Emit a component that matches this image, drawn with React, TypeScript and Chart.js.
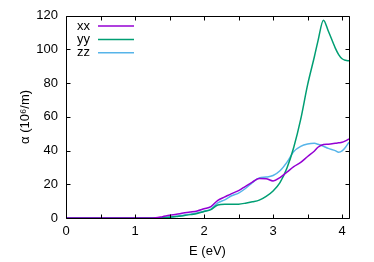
import React, { useEffect, useRef } from "react";
import { Chart, registerables } from "chart.js";

Chart.register(...registerables);

const energy = [0, 0.5, 1.0, 1.2, 1.3, 1.4, 1.5, 1.6, 1.7, 1.8, 1.9, 2.0, 2.1, 2.2, 2.3, 2.4, 2.5, 2.6, 2.7, 2.8, 2.9, 3.0, 3.1, 3.2, 3.3, 3.4, 3.5, 3.6, 3.65, 3.73, 3.8, 3.9, 3.95, 4.0, 4.05, 4.1];
const xx = [0, 0, 0, 0, 0.1, 0.8, 1.6, 2.2, 2.9, 3.5, 4.2, 5.5, 6.8, 10.5, 12.5, 14.5, 16.2, 18.8, 21.3, 23.5, 23.3, 22.0, 24.0, 27.2, 30.5, 33.0, 36.5, 39.8, 42.0, 43.6, 43.8, 44.3, 44.6, 44.9, 45.8, 46.9];
const yy = [0, 0, 0, 0, 0, 0.1, 0.4, 0.9, 1.4, 2.0, 2.7, 3.8, 5.0, 7.7, 8.1, 8.1, 8.2, 8.8, 9.6, 10.6, 12.8, 16.0, 21.0, 29.5, 42.0, 58.5, 79.0, 96.0, 105.0, 117.4, 111.0, 101.0, 97.0, 94.5, 93.6, 93.3];
const zz = [0, 0, 0, 0, 0, 0.2, 0.6, 1.1, 1.7, 2.3, 3.0, 4.0, 5.3, 9.0, 10.8, 13.2, 14.8, 17.5, 21.0, 23.8, 24.3, 25.2, 28.0, 33.0, 39.5, 42.5, 43.9, 44.3, 43.8, 42.6, 41.3, 40.0, 39.0, 39.8, 42.0, 45.0];

const seriesNames = ["xx", "yy", "zz"];
const seriesColors = ["#9400D3", "#009E73", "#56B4E9"];
const xTicks = [0, 0.5, 1, 1.5, 2, 2.5, 3, 3.5, 4];
const yTicks = [0, 20, 40, 60, 80, 100, 120];

const FONT = "'Liberation Sans', Arial, sans-serif";

const framePlugin = {
  id: "frame",
  afterDraw(chart: any) {
    const { ctx, chartArea } = chart;
    const { left, right, top, bottom } = chartArea;
    const xs = chart.scales.x;
    const ys = chart.scales.y;
    ctx.save();
    ctx.strokeStyle = "#000";
    ctx.lineWidth = 1;
    ctx.beginPath();
    const L = Math.round(left) + 0.5;
    const R = Math.round(right) + 0.5;
    const T = Math.round(top) + 0.5;
    const B = Math.round(bottom) + 0.5;
    ctx.rect(L, T, R - L, B - T);
    const tl = 4;
    xTicks.forEach((v) => {
      const px = Math.round(xs.getPixelForValue(v)) + 0.5;
      ctx.moveTo(px, B);
      ctx.lineTo(px, B - tl);
      ctx.moveTo(px, T);
      ctx.lineTo(px, T + tl);
    });
    yTicks.forEach((v) => {
      const py = Math.round(ys.getPixelForValue(v)) + 0.5;
      ctx.moveTo(L, py);
      ctx.lineTo(L + tl, py);
      ctx.moveTo(R, py);
      ctx.lineTo(R - tl, py);
    });
    ctx.stroke();

    // key (text then sample line, gnuplot style)
    ctx.font = `13px ${FONT}`;
    ctx.textAlign = "right";
    ctx.textBaseline = "middle";
    seriesNames.forEach((name, i) => {
      const y = 26 + i * 13.4;
      ctx.fillStyle = "#000";
      ctx.fillText(name, 90, y);
      ctx.strokeStyle = seriesColors[i];
      ctx.lineWidth = 1.5;
      ctx.beginPath();
      ctx.moveTo(98, y);
      ctx.lineTo(134, y);
      ctx.stroke();
    });
    ctx.restore();
  },
};

export default function App() {
  const ref = useRef<HTMLCanvasElement | null>(null);
  useEffect(() => {
    if (!ref.current) return;
    const mk = (vals: number[], i: number) => ({
      label: seriesNames[i],
      data: energy.map((e, k) => ({ x: e, y: vals[k] })),
      borderColor: seriesColors[i],
      backgroundColor: seriesColors[i],
      borderWidth: 1.5,
      pointRadius: 0,
      fill: false,
      cubicInterpolationMode: "monotone" as const,
    });
    const chart = new Chart(ref.current, {
      type: "line",
      data: { datasets: [mk(xx, 0), mk(yy, 1), mk(zz, 2)] },
      options: {
        responsive: false,
        animation: false,
        layout: { padding: { top: 15, right: 25, left: 0, bottom: 0 } },
        plugins: { legend: { display: false }, tooltip: { enabled: false } },
        scales: {
          x: {
            type: "linear",
            min: 0,
            max: 4.1,
            grid: { display: false, drawTicks: false },
            border: { display: false },
            ticks: {
              stepSize: 0.5,
              includeBounds: false,
              autoSkip: false,
              maxRotation: 0,
              padding: 6,
              color: "#000",
              font: { family: FONT, size: 13 },
              callback: (v: any) => (Number.isInteger(Number(v)) ? String(v) : ""),
            },
            title: {
              display: true,
              text: "E (eV)",
              color: "#000",
              font: { family: FONT, size: 13 },
              padding: { top: 0, bottom: 3 },
            },
            afterFit: (s: any) => {
              s.height = 44;
            },
          },
          y: {
            type: "linear",
            min: 0,
            max: 120,
            grid: { display: false, drawTicks: false },
            border: { display: false },
            ticks: {
              stepSize: 20,
              padding: 8,
              color: "#000",
              font: { family: FONT, size: 13 },
            },
            title: {
              display: true,
              text: "α (10⁶/m)",
              color: "#000",
              font: { family: FONT, size: 13 },
              padding: { top: 18, bottom: 0 },
            },
            afterFit: (s: any) => {
              s.width = 66;
            },
          },
        },
      },
      plugins: [framePlugin],
    });
    return () => chart.destroy();
  }, []);
  return (
    <div style={{ position: "fixed", left: 0, top: 0, width: 374, height: 262, background: "#fff" }}>
      <canvas ref={ref} width={374} height={262} style={{ display: "block", width: 374, height: 262 }} />
    </div>
  );
}
